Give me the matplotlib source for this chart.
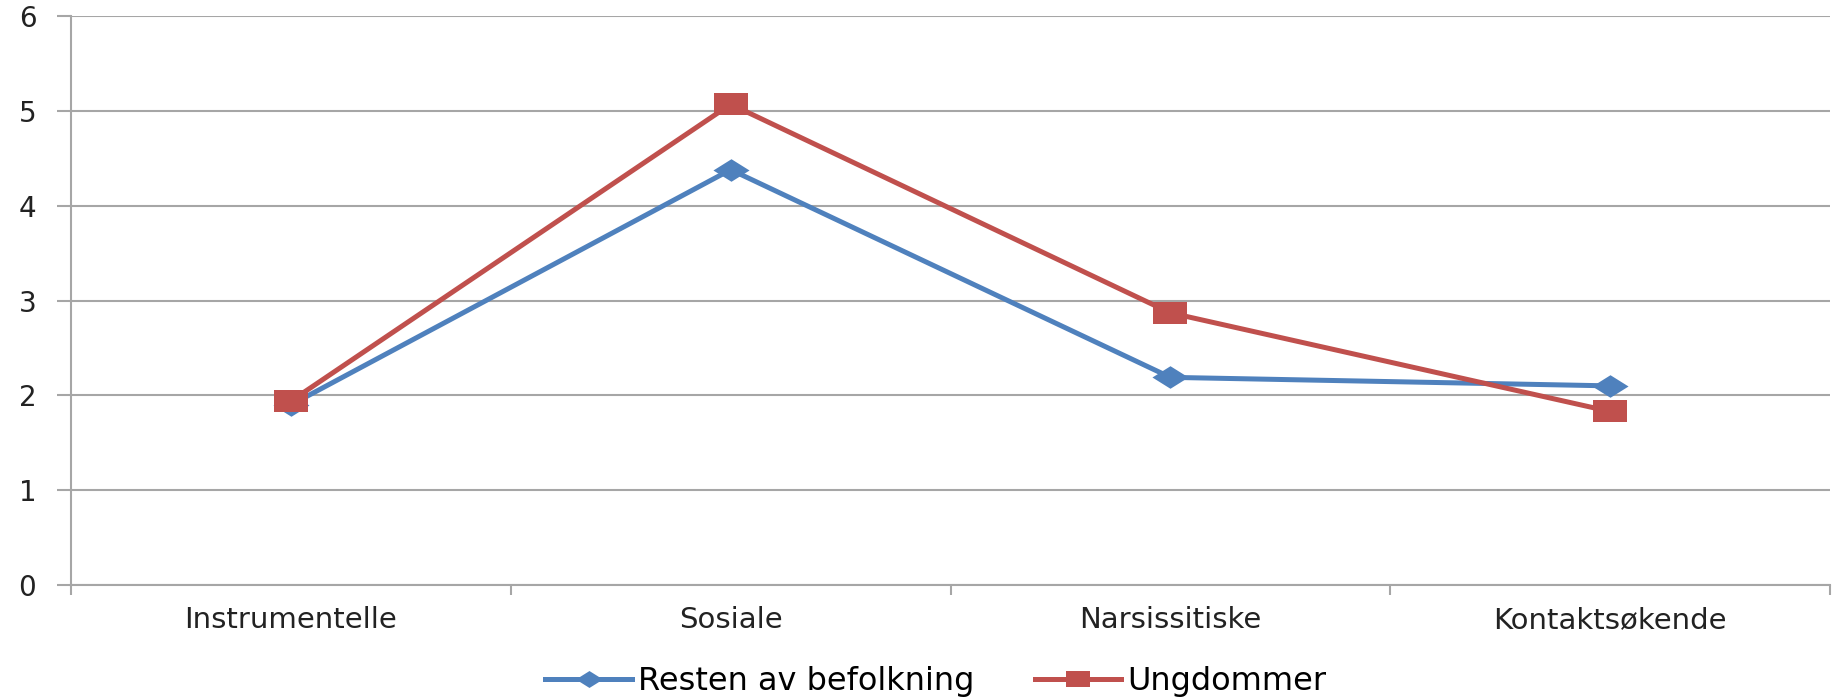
import numpy as np
import matplotlib.pyplot as plt
from matplotlib.path import Path

# kategorier og gjennomsnittsverdier for de to gruppene
kategorier = ['Instrumentelle', 'Sosiale', 'Narsissitiske', 'Kontaktsøkende']
resten = [1.9, 4.38, 2.19, 2.1]
ungdommer = [1.94, 5.07, 2.87, 1.83]
y_ticks = [0, 1, 2, 3, 4, 5, 6]

blaa = '#4F81BD'
roed = '#C0504D'
grid_farge = '#A6A6A6'

# utstrakte markører (bredere enn høye)
diamant = Path([(-1.6, 0), (0, -1), (1.6, 0), (0, 1), (-1.6, 0)],
               [Path.MOVETO, Path.LINETO, Path.LINETO, Path.LINETO, Path.CLOSEPOLY])
firkant = Path([(-1.5, -1), (1.5, -1), (1.5, 1), (-1.5, 1), (-1.5, -1)],
               [Path.MOVETO, Path.LINETO, Path.LINETO, Path.LINETO, Path.CLOSEPOLY])

fig = plt.figure(figsize=(18.37, 7.0), dpi=100)
ax = fig.add_axes([0.0387, 0.1643, 0.9575, 0.8127])

x = np.arange(len(kategorier))
ax.plot(x, resten, color=blaa, lw=3.6, marker=diamant, markersize=26,
        markeredgewidth=0, label='Resten av befolkning', zorder=3)
ax.plot(x, ungdommer, color=roed, lw=3.6, marker=firkant, markersize=24,
        markeredgewidth=0, label='Ungdommer', zorder=4)

ax.set_xlim(-0.5, len(kategorier) - 0.5)
ax.set_ylim(0, 6)
ax.set_yticks(y_ticks)
ax.yaxis.grid(True, color=grid_farge, lw=1.5)
ax.set_axisbelow(True)

# kategorinavn midt i hvert felt, tikkstreker på feltgrensene
ax.set_xticks(x)
ax.set_xticklabels(kategorier, fontsize=21, color='#222222', family='DejaVu Sans')
ax.set_xticks(np.arange(len(kategorier) + 1) - 0.5, minor=True)
ax.tick_params(axis='x', which='major', length=0, pad=15)
ax.tick_params(axis='x', which='minor', length=7, width=1.5, color=grid_farge)
ax.tick_params(axis='y', length=10, width=1.5, color=grid_farge, pad=15,
               labelsize=20, labelcolor='#222222')

for s in ['top', 'right']:
    ax.spines[s].set_visible(False)
for s in ['left', 'bottom']:
    ax.spines[s].set_color(grid_farge)
    ax.spines[s].set_linewidth(1.5)

fig.legend(loc='center', bbox_to_anchor=(0.5096, 0.026), ncol=2, frameon=False,
           prop={'family': 'DejaVu Sans', 'size': 23}, handlelength=2.7,
           handletextpad=0.2, columnspacing=1.9, markerscale=0.75)

fig.savefig('out.png', dpi=100)
